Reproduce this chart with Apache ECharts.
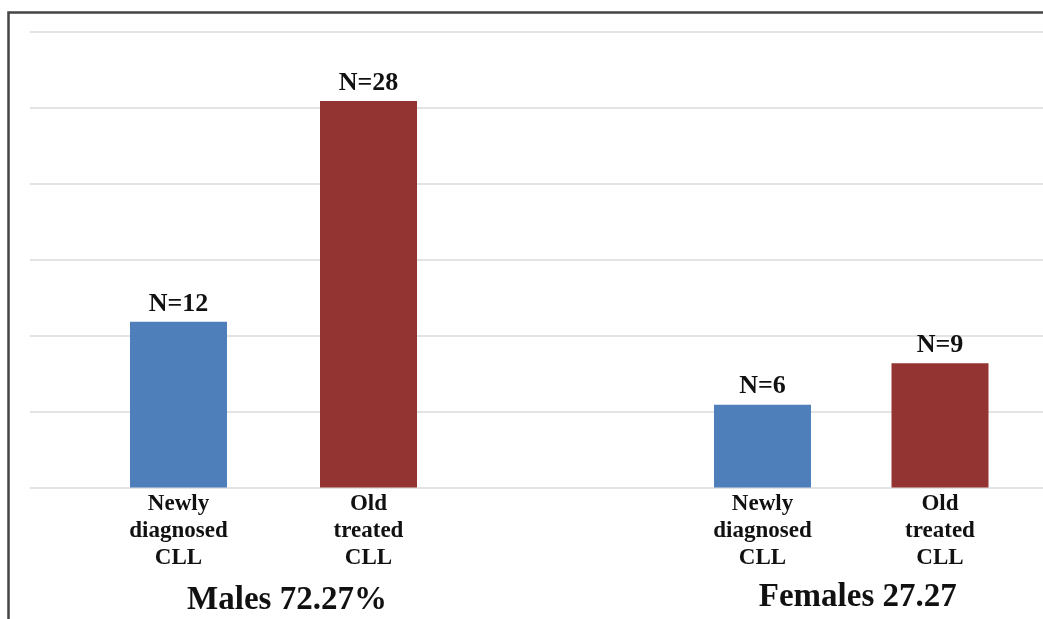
<!DOCTYPE html>
<html>
<head>
<meta charset="utf-8">
<title>CLL patients by sex and treatment status</title>
<script src="https://cdn.jsdelivr.net/npm/echarts@6/dist/echarts.min.js"></script>
<style>
  html, body { margin: 0; padding: 0; background: #ffffff; }
  #chart { width: 1043px; height: 619px; }
</style>
</head>
<body>
<div id="chart"></div>
<script>
// Patient counts per group
const categories = ['Newly\ndiagnosed\nCLL', 'Old\ntreated\nCLL'];
const groupNames = ['Males 72.27%', 'Females 27.27'];
const malesCounts = [12, 28];
const femalesCounts = [6, 9];
const barColors = ['#4f7fbb', '#933432'];

// Shared value scale
const yMax = 33;
const yStep = 5.5;

const serif = '"Liberation Serif", "Times New Roman", serif';
const textColor = '#111111';

const chart = echarts.init(document.getElementById('chart'), null, { renderer: 'canvas' });

const gridTop = 32;
const gridBottom = 131.5;

function groupAxis(gridIndex, name, namePadLeft, nameGap) {
  return {
    type: 'category',
    gridIndex: gridIndex,
    data: categories,
    axisLine: { show: false },
    axisTick: { show: false },
    splitLine: { show: false },
    axisLabel: {
      interval: 0,
      margin: 3,
      fontFamily: serif,
      fontWeight: 'bold',
      fontSize: 23,
      lineHeight: 27,
      color: textColor
    },
    name: '{g|' + name + '}',
    nameLocation: 'middle',
    nameGap: nameGap,
    nameTextStyle: {
      padding: [0, 0, 0, namePadLeft],
      rich: {
        g: {
          fontFamily: serif,
          fontWeight: 'bold',
          fontSize: 33,
          lineHeight: 33,
          color: textColor
        }
      }
    }
  };
}

function hiddenY(gridIndex) {
  return {
    type: 'value', gridIndex: gridIndex, min: 0, max: yMax, interval: yStep, show: false
  };
}

function groupSeries(axisIndex, values) {
  return {
    type: 'bar',
    xAxisIndex: axisIndex,
    yAxisIndex: axisIndex,
    barWidth: 97,
    data: values.map((v, i) => ({ value: v, itemStyle: { color: barColors[i] } })),
    label: {
      show: true,
      position: 'top',
      distance: 5,
      formatter: 'N={c}',
      fontFamily: serif,
      fontWeight: 'bold',
      fontSize: 26,
      color: textColor
    },
    emphasis: { disabled: true },
    animation: false
  };
}

const option = {
  backgroundColor: '#ffffff',
  animation: false,
  grid: [
    // background grid carrying the horizontal gridlines
    { left: 30, right: 0, top: gridTop, bottom: gridBottom, outerBoundsMode: 'none' },
    // males group
    { left: 83.5, width: 380, top: gridTop, bottom: gridBottom, outerBoundsMode: 'none' },
    // females group
    { left: 673.75, width: 355, top: gridTop, bottom: gridBottom, outerBoundsMode: 'none' }
  ],
  xAxis: [
    {
      type: 'category', gridIndex: 0, data: [''],
      axisLine: { show: false }, axisTick: { show: false }, axisLabel: { show: false },
      splitLine: { show: false }
    },
    groupAxis(1, groupNames[0], 27, 96),
    groupAxis(2, groupNames[1], 13, 93)
  ],
  yAxis: [
    {
      type: 'value', gridIndex: 0, min: 0, max: yMax, interval: yStep,
      axisLine: { show: false }, axisTick: { show: false }, axisLabel: { show: false },
      splitLine: { show: true, lineStyle: { color: '#e3e3e3', width: 2 } }
    },
    hiddenY(1),
    hiddenY(2)
  ],
  series: [
    groupSeries(1, malesCounts),
    groupSeries(2, femalesCounts)
  ],
  graphic: [
    {
      type: 'rect',
      silent: true,
      shape: { x: 8.5, y: 12.5, width: 1200, height: 800 },
      style: { fill: 'none', stroke: '#444444', lineWidth: 2.5 },
      z: 100
    }
  ]
};

chart.setOption(option);
</script>
</body>
</html>
